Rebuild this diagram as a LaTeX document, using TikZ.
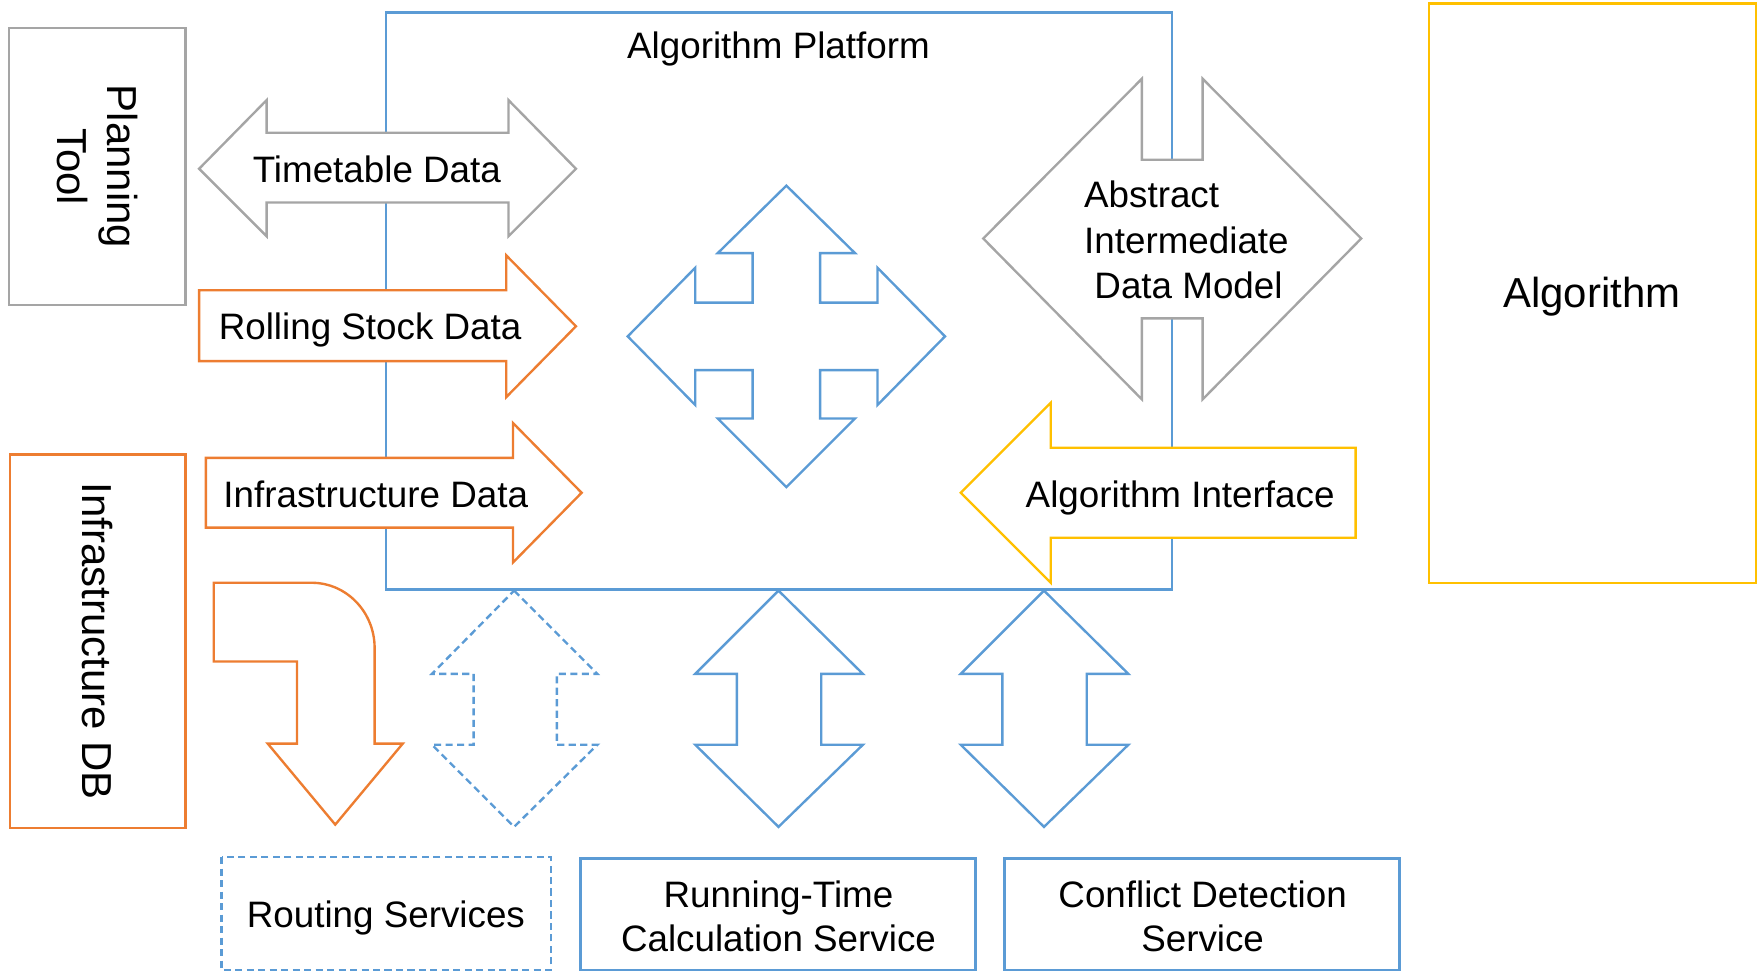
\documentclass[tikz,border=0pt]{standalone}
\usepackage{fontspec}
\setmainfont{Liberation Sans}
\definecolor{cblue}{HTML}{5B9BD5}
\definecolor{corange}{HTML}{ED7D31}
\definecolor{cgray}{HTML}{A5A5A5}
\definecolor{cyellow}{HTML}{FFC000}
\begin{document}
\begin{tikzpicture}[x=0.01cm,y=-0.01cm,line join=miter,
  ln/.style={line width=0.6pt},
  blueln/.style={ln,draw=cblue},
  bluearrow/.style={ln,draw=cblue,fill=white},
  bluedash/.style={ln,draw=cblue,fill=white,dash pattern=on 1.8pt off 1.1pt},
  grayarrow/.style={ln,draw=cgray,fill=white},
  orangearrow/.style={ln,draw=corange,fill=white},
  yellowarrow/.style={ln,draw=cyellow,fill=white},
  lbl/.style={font=\fontsize{9.3}{11.2}\selectfont,inner sep=0pt,anchor=base,align=center},
  biglbl/.style={font=\fontsize{10.6}{12.7}\selectfont,inner sep=0pt,anchor=base,align=center}]
\useasboundingbox (0,0) rectangle (1568,863);

% Algorithm platform frame
\draw[blueln] (343,11) rectangle (1042,524);
\node[lbl] (platform) at (692,52) {Algorithm Platform};

% Planning tool
\draw[ln,draw=cgray] (8,25) rectangle (165,271);
\node[biglbl,rotate=-90] (planning) at (51,148) {Planning\\Tool};

% Infrastructure DB
\draw[ln,draw=corange] (9,404) rectangle (165,736);
\node[biglbl,rotate=-90] (infradb) at (73,570) {Infrastructure DB};

% Algorithm box
\draw[ln,draw=cyellow] (1270,3) rectangle (1561,518);
\node[biglbl] (algo) at (1415,273) {Algorithm};

% Timetable data
\draw[grayarrow] (177,150) -- (237,89) -- (237,118) -- (452,118) -- (452,89) -- (512,150)
  -- (452,210) -- (452,180) -- (237,180) -- (237,210) -- cycle;
\node[lbl] (timetable) at (335,162) {Timetable Data};

% Rolling stock data
\draw[orangearrow] (177,258) -- (450,258) -- (450,227) -- (512,290) -- (450,353)
  -- (450,321) -- (177,321) -- cycle;
\node[lbl] (rolling) at (329,302) {Rolling Stock Data};

% Infrastructure data
\draw[orangearrow] (183,407) -- (456,407) -- (456,376) -- (517,438) -- (456,500)
  -- (456,469) -- (183,469) -- cycle;
\node[lbl] (infradata) at (334,451.5) {Infrastructure Data};

% four-way arrow
\draw[bluearrow] (699,165) -- (760,225) -- (729,225) -- (729,269) -- (780,269) -- (780,238)
  -- (840,299) -- (780,360) -- (780,329) -- (729,329) -- (729,372) -- (760,372)
  -- (699,433) -- (638,372) -- (669,372) -- (669,329) -- (618,329) -- (618,360)
  -- (558,299) -- (618,238) -- (618,269) -- (669,269) -- (669,225) -- (638,225) -- cycle;

% Abstract intermediate data model
\draw[grayarrow] (874,212) -- (1015,70) -- (1015,142) -- (1069,142) -- (1069,70) -- (1210,212)
  -- (1069,355) -- (1069,283) -- (1015,283) -- (1015,355) -- cycle;
\node[font=\fontsize{9.3}{11.4}\selectfont,inner sep=0pt,anchor=base west,align=left]
  (aidm) at (963,265) {Abstract\\Intermediate\\\hspace{0.28em}Data Model};

% Algorithm interface
\draw[yellowarrow] (854,438) -- (934,358) -- (934,398) -- (1205,398) -- (1205,478)
  -- (934,478) -- (934,518) -- cycle;
\node[lbl] (interface) at (1049,451.5) {Algorithm Interface};

% bent arrow
\draw[orangearrow] (190,518) -- (277,518) .. controls (308,518) and (333,544) .. (333,576)
  -- (333,661) -- (358,661) -- (298,733) -- (238,661) -- (264,661) -- (264,588)
  -- (190,588) -- cycle;

% vertical double arrows
\draw[bluedash] (457,525) -- (531,599) -- (495,599) -- (495,662) -- (531,662) -- (457,735)
  -- (384,662) -- (421,662) -- (421,599) -- (384,599) -- cycle;
\draw[bluearrow] (692,525) -- (767,599) -- (730,599) -- (730,662) -- (767,662) -- (692,735)
  -- (618,662) -- (655,662) -- (655,599) -- (618,599) -- cycle;
\draw[bluearrow] (928,525) -- (1003,599) -- (966,599) -- (966,662) -- (1003,662) -- (928,735)
  -- (854,662) -- (891,662) -- (891,599) -- (854,599) -- cycle;

% service boxes
\draw[ln,draw=cblue,dash pattern=on 1.8pt off 1.1pt] (197,762) rectangle (490,862);
\node[lbl] (routing) at (343,824) {Routing Services};
\draw[blueln] (516,763) rectangle (867,862);
\node[lbl] (running) at (692,846) {Running-Time\\Calculation Service};
\draw[blueln] (893,763) rectangle (1244,862);
\node[lbl] (conflict) at (1069,846) {Conflict Detection\\Service};
\end{tikzpicture}
\end{document}
